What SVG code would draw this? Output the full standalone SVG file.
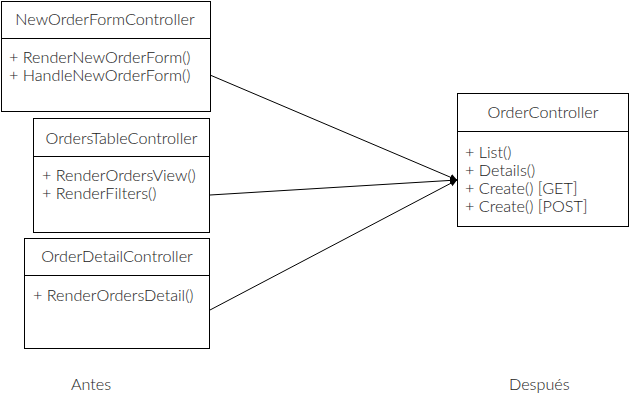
<svg xmlns="http://www.w3.org/2000/svg" width="633" height="403" viewBox="0 0 633 403">
<style>
.box{fill:#fff;stroke:#000;stroke-width:1}
.t{font-family:Lato,"Open Sans",sans-serif;font-weight:300;font-size:16.2px;fill:#222}
.c{text-anchor:middle}
.ln{stroke:#000;stroke-width:1;fill:none}
</style>
<defs>
<marker id="ah" markerWidth="8" markerHeight="8" refX="7" refY="4" orient="auto" markerUnits="userSpaceOnUse">
<path d="M0,0.5 L7,4 L0,7.5 z" fill="#000"/>
</marker>
</defs>
<rect width="633" height="403" fill="#fff"/>
<g id="connectors">
<line class="ln" x1="210" y1="75" x2="457" y2="180" marker-end="url(#ah)"/>
<line class="ln" x1="210" y1="195" x2="457" y2="180" marker-end="url(#ah)"/>
<line class="ln" x1="210" y1="310" x2="457" y2="180" marker-end="url(#ah)"/>
</g>
<g id="newOrderForm">
<rect class="box" x="1.5" y="1.5" width="209" height="110"/>
<line class="ln" x1="1.5" y1="38.5" x2="210.5" y2="38.5"/>
<text class="t c" x="105" y="25">NewOrderFormController</text>
<text class="t" x="9" y="63">+ RenderNewOrderForm()</text>
<text class="t" x="9" y="81">+ HandleNewOrderForm()</text>
</g>
<g id="ordersTable">
<rect class="box" x="33.5" y="118.5" width="176" height="114"/>
<line class="ln" x1="33.5" y1="156.5" x2="209.5" y2="156.5"/>
<text class="t c" x="121.5" y="144">OrdersTableController</text>
<text class="t" x="42" y="181">+ RenderOrdersView()</text>
<text class="t" x="42" y="199">+ RenderFilters()</text>
</g>
<g id="orderDetail">
<rect class="box" x="24.5" y="238.5" width="185" height="110"/>
<line class="ln" x1="24.5" y1="275.5" x2="209.5" y2="275.5"/>
<text class="t c" x="117" y="262">OrderDetailController</text>
<text class="t" x="33" y="301">+ RenderOrdersDetail()</text>
</g>
<g id="orderController">
<rect class="box" x="457.5" y="93.5" width="171" height="133"/>
<line class="ln" x1="457.5" y1="131.5" x2="628.5" y2="131.5"/>
<text class="t c" x="543" y="118">OrderController</text>
<text class="t" x="465" y="158">+ List()</text>
<text class="t" x="465" y="176">+ Details()</text>
<text class="t" x="465" y="194">+ Create() [GET]</text>
<text class="t" x="465" y="212">+ Create() [POST]</text>
</g>
<g id="labels">
<text class="t" x="71" y="390">Antes</text>
<text class="t" x="509" y="390">Después</text>
</g>
</svg>
